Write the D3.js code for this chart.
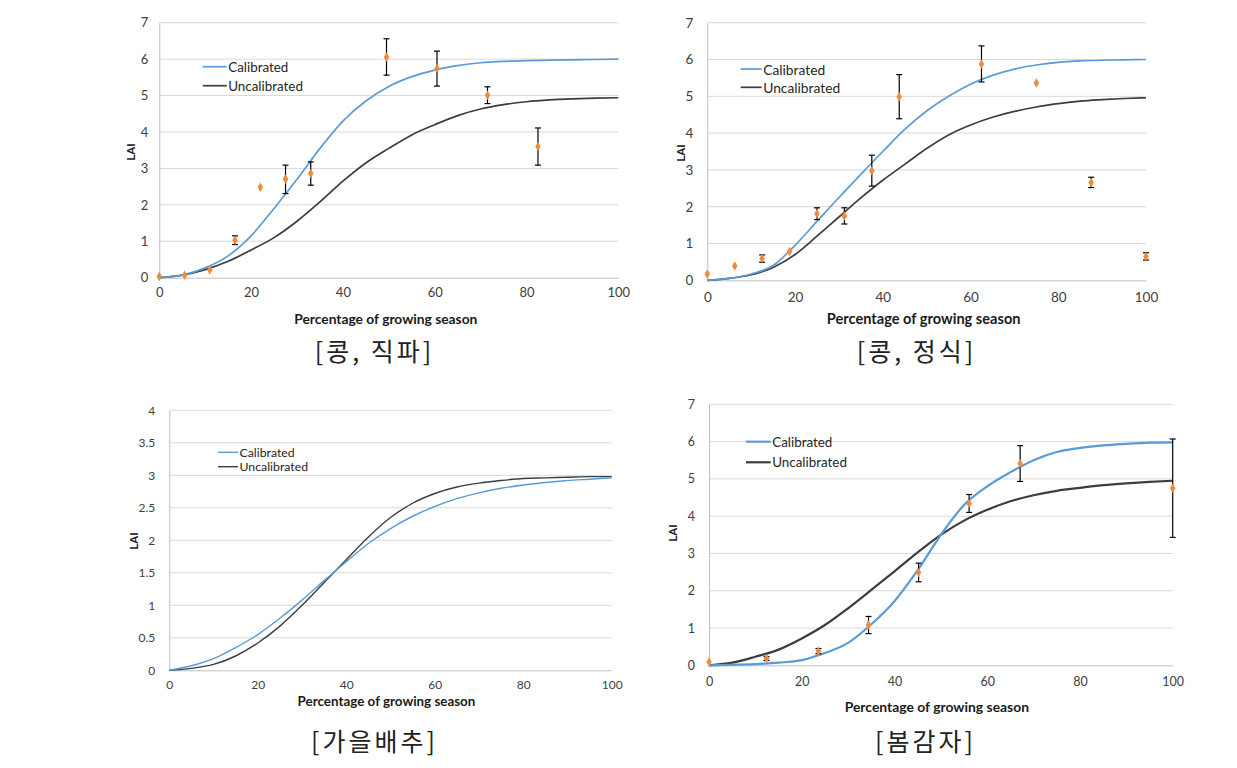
<!DOCTYPE html>
<html><head><meta charset="utf-8">
<script src="https://cdn.jsdelivr.net/npm/d3@7"></script>
<style>
html,body{margin:0;padding:0;background:#fff;}
svg{display:block;}
</style></head>
<body>
<svg id="c" width="1237" height="768"></svg>
<script>
// ---------- DATA ----------
const sampleX = [0,5,10,15,20,25,30,35,40,45,50,55,60,65,70,75,80,85,90,95,100];
const xTicks = [0,20,40,60,80,100];
const yTicks7 = [0,1,2,3,4,5,6,7];
const yTicks4 = [0,0.5,1,1.5,2,2.5,3,3.5,4];
const seriesNames = ["Calibrated","Uncalibrated"];
const xTitle = "Percentage of growing season";
const yTitle = "LAI";
const captions = ["[콩, 직파]","[콩, 정식]","[가을배추]","[봄감자]"];

// Panel 1: 콩, 직파
const p1Cal   = [0,0.07,0.27,0.6,1.15,1.9,2.7,3.55,4.3,4.85,5.25,5.52,5.7,5.82,5.9,5.94,5.96,5.97,5.98,5.99,6.0];
const p1Uncal = [0,0.07,0.22,0.45,0.76,1.1,1.55,2.08,2.65,3.15,3.55,3.92,4.2,4.45,4.63,4.75,4.83,4.88,4.91,4.93,4.94];
const p1ObsX  = [0,5.5,11,16.5,22,27.5,33,49.5,60.5,71.5,82.5];
const p1ObsY  = [0.03,0.07,0.21,1.03,2.48,2.70,2.86,6.06,5.74,5.01,3.60];
const p1ObsE  = [0,0,0,0.12,0,0.39,0.32,0.5,0.48,0.23,0.51];

// Panel 2: 콩, 정식
const p2Cal   = [0,0.05,0.17,0.4,0.95,1.6,2.25,2.88,3.5,4.1,4.6,5.0,5.33,5.57,5.74,5.85,5.92,5.96,5.98,5.99,6.0];
const p2Uncal = [0,0.05,0.15,0.35,0.7,1.2,1.72,2.24,2.72,3.15,3.58,3.95,4.22,4.43,4.59,4.71,4.8,4.87,4.91,4.94,4.96];
const p2ObsX  = [0,6.25,12.5,18.75,25,31.25,37.5,43.75,62.5,75,87.5,100];
const p2ObsY  = [0.17,0.39,0.59,0.78,1.81,1.75,2.98,4.99,5.88,5.36,2.66,0.65];
const p2ObsE  = [0,0,0.1,0,0.16,0.22,0.42,0.6,0.49,0,0.14,0.1];

// Panel 3: 가을배추
const p3Cal   = [0,0.07,0.18,0.35,0.55,0.8,1.08,1.38,1.67,1.95,2.18,2.37,2.52,2.64,2.73,2.8,2.85,2.89,2.92,2.94,2.96];
const p3Uncal = [0,0.03,0.09,0.22,0.42,0.68,1.0,1.35,1.7,2.05,2.35,2.57,2.72,2.82,2.88,2.92,2.95,2.96,2.97,2.98,2.98];

// Panel 4: 봄감자
const p4Cal   = [0,0.01,0.03,0.07,0.14,0.33,0.6,1.1,1.72,2.55,3.5,4.3,4.8,5.18,5.5,5.72,5.83,5.9,5.94,5.97,5.98];
const p4Uncal = [0,0.07,0.23,0.42,0.72,1.08,1.53,2.02,2.52,3.03,3.5,3.88,4.17,4.4,4.56,4.68,4.76,4.83,4.88,4.92,4.95];
const p4ObsX  = [0,12.4,23.6,34.4,45.2,56.1,67.1,100];
const p4ObsY  = [0.09,0.18,0.38,1.08,2.49,4.34,5.41,4.75];
const p4ObsE  = [0,0.05,0.07,0.23,0.25,0.24,0.48,1.32];

// ---------- DRAWING ----------
const svg = d3.select("#c");
const BLUE = "#5B9BD5", DARK = "#3d3d3d", ORANGE = "#F08A3C";
const FONT = "Lato, 'Open Sans', sans-serif";

function drawPanel(o){
  const g = svg.append("g");
  const x = d3.scaleLinear().domain([0,100]).range([o.left,o.right]);
  const y = d3.scaleLinear().domain([0,o.ymax]).range([o.bottom,o.top]);

  // gridlines
  g.append("g").selectAll("line").data(o.yTicks.slice(1)).join("line")
    .attr("x1",o.left).attr("x2",o.right)
    .attr("y1",d=>y(d)).attr("y2",d=>y(d))
    .attr("stroke","#d9d9d9").attr("stroke-width",1);

  // axes
  const ya = g.append("g").attr("transform",`translate(${o.left},0)`)
    .call(d3.axisLeft(y).tickValues(o.yTicks).tickSize(0).tickPadding(o.yPad).tickFormat(d3.format("")));
  ya.select(".domain").attr("stroke","#bfbfbf");
  ya.selectAll("text").attr("font-family",FONT).attr("font-size",o.tickFs).attr("fill","#404040");

  const xa = g.append("g").attr("transform",`translate(0,${o.bottom})`)
    .call(d3.axisBottom(x).tickValues(xTicks).tickSize(0).tickPadding(o.xPad));
  xa.select(".domain").attr("stroke","#bfbfbf");
  xa.selectAll("text").attr("font-family",FONT).attr("font-size",o.tickFs).attr("fill","#404040");

  // titles
  g.append("text").attr("x",(o.left+o.right)/2 + o.titleDx).attr("y",o.titleY)
    .attr("text-anchor","middle").attr("dominant-baseline","central")
    .attr("font-family",FONT).attr("font-weight","bold").attr("font-size",o.titleFs).attr("fill","#1a1a1a")
    .text(xTitle);
  g.append("text").attr("transform",`translate(${o.laiX},${o.laiY}) rotate(-90)`)
    .attr("text-anchor","middle").attr("dominant-baseline","central")
    .attr("font-family",FONT).attr("font-weight","bold").attr("font-size",11.5).attr("fill","#1a1a1a")
    .text(yTitle);

  // curves
  const line = d3.line().x(d=>x(d[0])).y(d=>y(d[1])).curve(d3.curveMonotoneX);
  g.append("path").datum(sampleX.map((v,i)=>[v,o.uncal[i]])).attr("d",line)
    .attr("fill","none").attr("stroke",DARK).attr("stroke-width",o.lw);
  g.append("path").datum(sampleX.map((v,i)=>[v,o.cal[i]])).attr("d",line)
    .attr("fill","none").attr("stroke",BLUE).attr("stroke-width",o.lw);

  // observations
  if(o.obsX){
    const obs = o.obsX.map((v,i)=>({x:v,y:o.obsY[i],e:o.obsE[i]}));
    const eb = g.append("g").selectAll("g").data(obs.filter(d=>d.e>0)).join("g")
      .attr("stroke","#000").attr("stroke-width",1.2);
    eb.append("line").attr("x1",d=>x(d.x)).attr("x2",d=>x(d.x)).attr("y1",d=>y(d.y+d.e)).attr("y2",d=>y(d.y-d.e));
    eb.append("line").attr("x1",d=>x(d.x)-3).attr("x2",d=>x(d.x)+3).attr("y1",d=>y(d.y+d.e)).attr("y2",d=>y(d.y+d.e));
    eb.append("line").attr("x1",d=>x(d.x)-3).attr("x2",d=>x(d.x)+3).attr("y1",d=>y(d.y-d.e)).attr("y2",d=>y(d.y-d.e));
    g.append("g").selectAll("path").data(obs).join("path")
      .attr("transform",d=>`translate(${x(d.x)},${y(d.y)})`)
      .attr("d",d3.symbol().type(d3.symbolDiamond).size(26))
      .attr("fill",ORANGE);
  }

  // legend
  const lg = g.append("g");
  seriesNames.forEach((n,i)=>{
    const yy = o.legY[i];
    lg.append("line").attr("x1",o.legX0).attr("x2",o.legX1).attr("y1",yy).attr("y2",yy)
      .attr("stroke",i===0?BLUE:DARK).attr("stroke-width",o.lw);
    lg.append("text").attr("x",o.legX1+1.5).attr("y",yy).attr("dominant-baseline","central")
      .attr("font-family",FONT).attr("font-size",o.legFs).attr("fill","#262626").text(n);
  });

  // caption
  svg.append("text").attr("x",o.capX+1.5).attr("y",o.capY)
    .attr("text-anchor","middle").attr("dominant-baseline","central")
    .attr("font-family","'Noto Sans CJK KR', sans-serif").attr("font-size",25)
    .attr("letter-spacing",3).attr("fill","#222")
    .text(o.caption);
}

drawPanel({left:159.3,right:618.3,top:22.7,bottom:277.7,ymax:7,yTicks:yTicks7,
  yPad:11,xPad:10,tickFs:13,titleY:318,titleDx:-3,titleFs:13.8,laiX:130,laiY:152,
  cal:p1Cal,uncal:p1Uncal,obsX:p1ObsX,obsY:p1ObsY,obsE:p1ObsE,lw:1.7,
  legX0:202.7,legX1:226.7,legY:[66.7,85.7],legFs:13.4,capX:373,capY:350,caption:captions[0]});

drawPanel({left:707.3,right:1146,top:22.7,bottom:280.3,ymax:7,yTicks:yTicks7,
  yPad:14,xPad:12,tickFs:13.5,titleY:318,titleDx:-3,titleFs:14.6,laiX:680,laiY:153,
  cal:p2Cal,uncal:p2Uncal,obsX:p2ObsX,obsY:p2ObsY,obsE:p2ObsE,lw:1.7,
  legX0:740.7,legX1:761.7,legY:[69,87.3],legFs:13.8,capX:915,capY:350,caption:captions[1]});

drawPanel({left:169.3,right:611.7,top:410.3,bottom:670.3,ymax:4,yTicks:yTicks4,
  yPad:14,xPad:10,tickFs:12,titleY:701,titleDx:-4,titleFs:13.4,laiX:133,laiY:541,
  cal:p3Cal,uncal:p3Uncal,lw:1.4,
  legX0:218,legX1:238,legY:[452.3,466.7],legFs:12.3,capX:373,capY:740,caption:captions[2]});

drawPanel({left:709,right:1172.7,top:404.3,bottom:665.3,ymax:7,yTicks:yTicks7,
  yPad:14,xPad:12,tickFs:12.5,titleY:706.7,titleDx:-4,titleFs:13.9,laiX:672,laiY:533,
  cal:p4Cal,uncal:p4Uncal,obsX:p4ObsX,obsY:p4ObsY,obsE:p4ObsE,lw:2.2,
  legX0:746,legX1:770.7,legY:[441.7,462.3],legFs:13.4,capX:924,capY:740,caption:captions[3]});
</script>
</body></html>
